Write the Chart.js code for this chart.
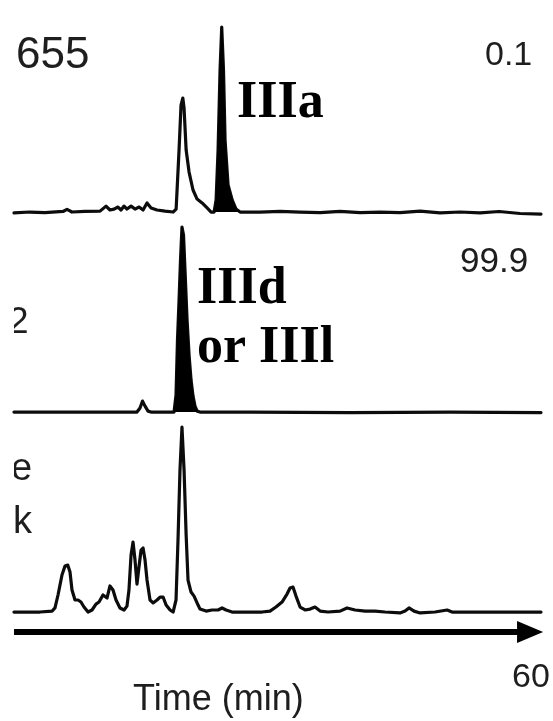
<!DOCTYPE html>
<html>
<head>
<meta charset="utf-8">
<script src="https://cdn.jsdelivr.net/npm/chart.js@4.4.1/dist/chart.umd.min.js"></script>
<style>
  html, body { margin: 0; padding: 0; background: #ffffff; }
  #wrap { width: 553px; height: 721px; position: relative; }
</style>
</head>
<body>
<div id="wrap"><canvas id="c" width="553" height="721"></canvas></div>
<script>
// ---- Data (time in min, signal normalised: tallest peak = 100) ----
const trace1Time = [10.54,12.07,13.51,15.24,15.62,16.10,17.35,18.79,19.36,19.74,20.13,20.51,20.80,21.09,21.37,21.76,22.14,22.53,22.91,23.29,23.68,24.25,25.02,25.79,26.08,26.36,26.55,26.72,26.84,27.04,27.32,27.70,28.09,28.57,29.05,29.43,29.72,29.91,30.10,30.29,30.45,30.62,30.77,31.06,31.45,31.82,32.21,34.12,36.04,37.96,39.88,41.79,43.71,45.62,47.54,49.46,51.37,53.29,55.21,57.03,59.04,61.05];
const trace1Signal = [-0.5,0,-0.3,0.3,1.4,0,0.3,0.5,3.2,1.1,1.6,2.7,1.1,3.2,1.6,3.2,1.6,2.7,1.1,4.9,2.2,1.1,0.5,0,1.6,33.5,57.8,61.6,56.2,33.5,21.6,11.9,7.0,4.9,2.2,0,0,6.5,33.5,76.8,100,76.8,38.9,14.6,6.5,1.6,0,0,0.3,0,-0.3,0.3,-0.3,0,-0.3,0.5,-0.5,0,-0.5,0.3,-0.8,-1.1];

const trace2Time = [10.54,14.95,18.79,22.33,22.62,22.86,23.10,23.39,23.67,25.69,25.88,26.07,26.21,26.36,26.50,26.64,26.79,26.93,27.13,27.32,27.51,27.70,27.89,28.09,28.37,33.16,42.75,52.33,61.05];
const trace2Signal = [0,0,0,0,2.2,5.9,3.2,0.5,0,0,0,9.2,38.9,60.5,82.2,100,95.7,76.8,49.7,30.8,17.3,8.6,3.2,0.5,0,0,-0.3,0,-0.3];

const trace3Time = [10.54,13.03,14.19,14.47,14.76,15.14,15.43,15.69,15.91,16.10,16.39,16.68,16.96,17.25,17.64,18.02,18.40,18.69,19.07,19.46,19.74,20.03,20.32,20.70,21.09,21.37,21.56,21.76,21.95,22.14,22.33,22.53,22.72,22.91,23.10,23.29,23.58,23.87,24.25,24.54,24.83,25.12,25.50,25.79,26.07,26.26,26.45,26.64,26.84,27.04,27.22,27.51,27.80,28.09,28.37,28.95,29.52,30.10,30.48,30.87,31.44,32.21,33.16,34.31,35.08,35.65,36.23,36.71,37.00,37.28,37.57,37.96,38.44,38.92,39.39,39.88,40.64,41.79,42.46,43.23,44.19,45.14,46.10,47.54,48.02,48.40,48.88,49.46,50.89,52.05,52.53,54.25,56.17,58.08,61.05];
const trace3Signal = [0,0,0.5,2.2,9.2,20.0,24.9,25.4,21.6,11.9,6.5,6.5,5.4,2.7,0,1.1,4.3,5.4,9.2,7.6,14.1,11.9,6.5,2.2,1.1,3.2,11.9,30.8,37.8,28.1,15.1,24.9,33.5,34.6,28.1,17.3,6.5,4.9,6.5,8.1,8.1,3.8,1.1,0,6.5,38.9,76.8,100,76.8,41.6,17.3,10.8,8.6,4.9,1.6,0.5,1.1,1.1,2.2,1.1,0,0,0,0,0.5,2.7,5.4,9.7,13.0,13.5,8.6,2.7,1.1,1.6,2.7,0.5,0,0.5,2.2,1.1,0.5,0.5,0,-0.5,0.5,2.2,0.5,-0.5,0,1.1,0,0,0,0,0];

// shaded (black) peak windows, in minutes
const peakIIIaWindow = [29.6, 32.3];
const peakIIIdWindow = [25.8, 28.2];

// axis / labels
const axisEndLabel = "60";
const axisTitle = "Time (min)";
const traceLabels = ["655", "2", "e", "k"];
const ratioLabels = ["0.1", "99.9"];
const peakLabels = ["IIIa", "IIId", "or IIIl"];

// ---- build datasets ----
function pts(t, v) { return t.map((x, i) => ({ x: x, y: v[i] })); }
function windowPts(t, v, w) { return pts(t, v).filter(p => p.x >= w[0] && p.x <= w[1]); }

const lineStyle = { borderColor: '#0c0c0c', borderWidth: 3.2, pointRadius: 0, tension: 0, borderJoinStyle: 'round', borderCapStyle: 'round', fill: false };

const datasets = [
  Object.assign({ label: 'trace 1 fill', data: windowPts(trace1Time, trace1Signal, peakIIIaWindow), yAxisID: 'y1', backgroundColor: '#000', fill: 'origin' }, { borderColor: '#000', borderWidth: 1, pointRadius: 0, tension: 0 }),
  Object.assign({ label: 'trace 2 fill', data: windowPts(trace2Time, trace2Signal, peakIIIdWindow), yAxisID: 'y2', backgroundColor: '#000', fill: 'origin' }, { borderColor: '#000', borderWidth: 1, pointRadius: 0, tension: 0 }),
  Object.assign({ label: 'trace 1', data: pts(trace1Time, trace1Signal), yAxisID: 'y1' }, lineStyle),
  Object.assign({ label: 'trace 2', data: pts(trace2Time, trace2Signal), yAxisID: 'y2' }, lineStyle),
  Object.assign({ label: 'trace 3', data: pts(trace3Time, trace3Signal), yAxisID: 'y3' }, lineStyle)
];

// ---- annotation plugin: axis arrow + texts ----
const decor = {
  id: 'decor',
  afterDraw(chart) {
    const ctx = chart.ctx;
    const xs = chart.scales.x;
    const y3 = chart.scales.y3;
    const x0 = xs.getPixelForValue(trace3Time[0]);
    const xTip = xs.getPixelForValue(61.25);
    const yAx = y3.getPixelForValue(-10.8);
    ctx.save();
    // arrow
    ctx.strokeStyle = '#000';
    ctx.fillStyle = '#000';
    ctx.lineWidth = 6;
    ctx.beginPath();
    ctx.moveTo(x0, yAx);
    ctx.lineTo(xTip - 22, yAx);
    ctx.stroke();
    ctx.beginPath();
    ctx.moveTo(xTip, yAx);
    ctx.lineTo(xTip - 26, yAx - 11);
    ctx.lineTo(xTip - 26, yAx + 11);
    ctx.closePath();
    ctx.fill();

    // sans texts
    ctx.fillStyle = '#1e1e1e';
    ctx.textBaseline = 'alphabetic';
    ctx.textAlign = 'left';
    ctx.font = '44px "Liberation Sans", Arial, sans-serif';
    ctx.fillText(traceLabels[0], 16, 68);
    ctx.font = '34px "Liberation Sans", Arial, sans-serif';
    ctx.fillText(ratioLabels[0], 485, 65);
    ctx.font = '35px "Liberation Sans", Arial, sans-serif';
    ctx.fillText(ratioLabels[1], 460, 272);
    ctx.font = '34px "Liberation Sans", Arial, sans-serif';
    ctx.fillText(axisEndLabel, 512, 687);
    ctx.font = '36px "Liberation Sans", Arial, sans-serif';
    ctx.fillText(axisTitle, 133, 710);

    // clipped left labels
    ctx.save();
    ctx.beginPath();
    ctx.rect(14, 0, 200, 721);
    ctx.clip();
    ctx.font = '37px "Liberation Sans", Arial, sans-serif';
    ctx.fillText(traceLabels[1], 8, 333);
    ctx.font = '38px "Liberation Sans", Arial, sans-serif';
    ctx.fillText(traceLabels[2], 11, 480);
    ctx.fillText(traceLabels[3], 13, 533);
    ctx.restore();

    // bold serif peak labels
    ctx.fillStyle = '#000';
    ctx.font = 'bold 52px "Liberation Serif", "Times New Roman", serif';
    ctx.fillText(peakLabels[0], 237, 117);
    ctx.fillText(peakLabels[1], 197, 303);
    ctx.fillText(peakLabels[2], 197, 362);
    ctx.restore();
  }
};

new Chart(document.getElementById('c'), {
  type: 'line',
  data: { datasets: datasets },
  options: {
    responsive: false,
    animation: false,
    events: [],
    layout: { padding: 0 },
    plugins: { legend: { display: false }, tooltip: { enabled: false }, title: { display: false } },
    scales: {
      x: { type: 'linear', min: 9.2, max: 62.2, display: false },
      y1: { type: 'linear', min: -275.1, max: 114.6, display: false },
      y2: { type: 'linear', min: -167.0, max: 222.7, display: false },
      y3: { type: 'linear', min: -58.9, max: 330.8, display: false }
    }
  },
  plugins: [decor]
});
</script>
</body>
</html>
